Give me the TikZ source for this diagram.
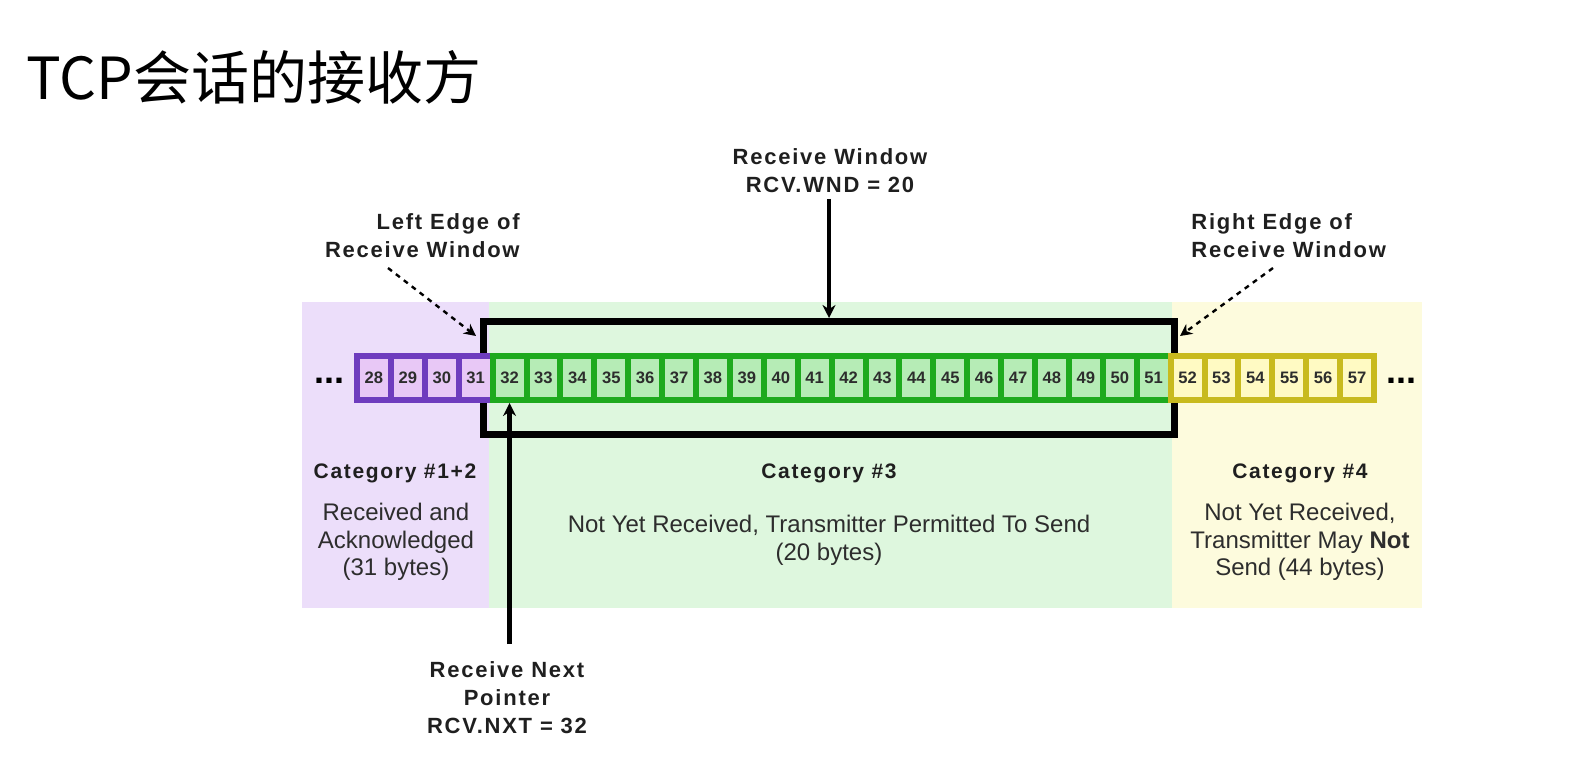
\documentclass[tikz,border=0pt]{standalone}
\usepackage{fontspec}
\setmainfont{Liberation Sans}
\newfontfamily\cjk{Noto Sans CJK SC}
\newfontfamily\lblfont[LetterSpace=8]{Liberation Sans}
\usetikzlibrary{arrows.meta}
\definecolor{pbg}{RGB}{236,222,250}
\definecolor{gbg}{RGB}{222,247,222}
\definecolor{ybg}{RGB}{253,251,221}
\definecolor{pline}{RGB}{110,60,190}
\definecolor{pfill}{RGB}{232,200,246}
\definecolor{gline}{RGB}{30,170,30}
\definecolor{gfill}{RGB}{182,236,182}
\definecolor{yline}{RGB}{200,186,30}
\definecolor{yfill}{RGB}{255,250,195}
\definecolor{txt}{RGB}{45,45,45}
\begin{document}
\begin{tikzpicture}[x=0.5pt,y=-0.5pt,
  cellbox/.style={draw, line width=3pt, minimum width=16.95pt, minimum height=22pt,
    inner sep=0pt, text=txt, font=\bfseries\fontsize{8.3}{9}\selectfont},
  pcell/.style={cellbox, draw=pline, fill=pfill},
  gcell/.style={cellbox, draw=gline, fill=gfill},
  ycell/.style={cellbox, draw=yline, fill=yfill},
  lbl/.style={inner sep=0pt, text=black!88, font=\lblfont\bfseries\fontsize{11}{14}\selectfont},
  cattitle/.style={inner sep=0pt, text=black!88, font=\lblfont\bfseries\fontsize{10.5}{13}\selectfont},
  catdesc/.style={inner sep=0pt, align=center, text=txt, font=\fontsize{12}{13.8}\selectfont},
  dots/.style={inner sep=0pt, font=\bfseries\fontsize{18}{18}\selectfont},
  dasharrow/.style={line width=1.2pt, dash pattern=on 2.5pt off 2.5pt, -{Stealth[length=6pt,width=6pt]}},
  solidarrow/.style={line width=2.2pt, -{Stealth[length=6.5pt,width=6.5pt]}}
]
\useasboundingbox (0,0) rectangle (1579,770);
% title
\node[anchor=west, inner sep=0pt, font=\cjk\fontsize{29}{34}\selectfont] (title) at (26,77) {TCP会话的接收方};
% backgrounds
\fill[pbg] (302,302) rectangle (489,608);
\fill[gbg] (489,302) rectangle (1172,608);
\fill[ybg] (1172,302) rectangle (1422,608);
% receive window frame
\node[draw, line width=3.5pt, minimum width=345.5pt, minimum height=56.5pt, inner sep=0pt] (win) at (829,378) {};
% cells
\foreach \n in {28,...,31}{\node[pcell] (c\n) at ({373.95+33.9*(\n-28)},378) {\n};}
\foreach \n in {32,...,51}{\node[gcell] (c\n) at ({373.95+33.9*(\n-28)},378) {\n};}
\foreach \n in {52,...,57}{\node[ycell] (c\n) at ({373.95+33.9*(\n-28)},378) {\n};}
\node[dots] (dl) at (329,381) {...};
\node[dots] (dr) at (1401,381) {...};
% top labels
\node[lbl, align=center] (rw) at (830,171) {Receive Window\\RCV.WND = 20};
\node[lbl, align=right, anchor=east] (le) at (520,236) {Left Edge of\\Receive Window};
\node[lbl, align=left, anchor=west] (re) at (1191,236) {Right Edge of\\Receive Window};
\node[lbl, align=center] (rn) at (507,698) {Receive Next\\Pointer\\RCV.NXT = 32};
% arrows
\coordinate (leS) at (388,268);
\coordinate (leE) at (476,336);
\coordinate (reS) at (1273,268);
\coordinate (reE) at (1180,336);
\coordinate (rwS) at (win.north |- 0,199);
\coordinate (rnS) at (c32.south |- 0,644);
\draw[solidarrow] (rwS) -- (win.north);
\draw[dasharrow] (leS) -- (leE);
\draw[dasharrow] (reS) -- (reE);
\draw[solidarrow] (rnS) -- (c32.south);
% categories
\node[cattitle] (k12) at (395,473) {Category \#1+2};
\node[catdesc] (d12) at (396,542) {Received and\\Acknowledged\\(31 bytes)};
\node[cattitle] (k3) at (829,473) {Category \#3};
\node[catdesc] (d3) at (829,540) {Not Yet Received, Transmitter Permitted To Send\\(20 bytes)};
\node[cattitle] (k4) at (1300,473) {Category \#4};
\node[catdesc] (d4) at (1300,542) {Not Yet Received,\\Transmitter May \textbf{Not}\\Send (44 bytes)};
\end{tikzpicture}
\end{document}
